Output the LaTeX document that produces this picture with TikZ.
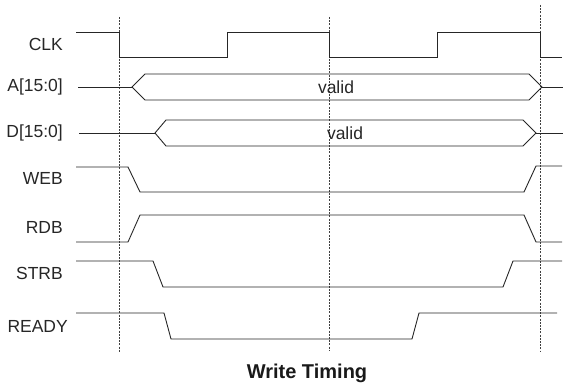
\documentclass[tikz,border=0pt]{standalone}
\usepackage{fontspec}
\setmainfont{Liberation Sans}
\begin{document}
\begin{tikzpicture}[x=1pt,y=-1pt,
        wave/.style={draw=black!85,line width=0.9pt,line join=miter},
        tick/.style={draw=black!75,line width=0.6pt,dash pattern=on 2pt off 1.2pt},
        sig/.style={anchor=east,inner sep=0pt,text=black!85,font=\fontsize{17.5}{20}\selectfont},
        val/.style={text=black!85,font=\fontsize{17.5}{20}\selectfont}]
        \useasboundingbox (0,0) rectangle (564,387);
        % clock edges
        \draw[tick] (119,17) -- (119,352);
        \draw[tick] (329,17) -- (329,350);
        \draw[tick] (540,5) -- (540,352);
        % signal names
        \node[sig] (clk)   at (63,44)  {CLK};
        \node[sig] (addr)  at (63,87)  {A[15:0]};
        \node[sig] (data)  at (63,133) {D[15:0]};
        \node[sig] (web)   at (63,178) {WEB};
        \node[sig] (rdb)   at (63,227) {RDB};
        \node[sig] (strb)  at (63,273) {STRB};
        \node[sig] (ready) at (68,326) {READY};
        % waveforms
        \draw[wave] (76,32) -- (119,32) -- (119,57) -- (227,57) -- (227,32) -- (329,32)
            -- (329,57) -- (437,57) -- (437,32) -- (540,32) -- (540,57) -- (562,57);
        \draw[wave] (78,87) -- (132,87) (542,87) -- (563,87);
        \draw[wave] (132,87) -- (145,74) -- (529,74) -- (542,87) -- (529,100) -- (145,100) -- cycle;
        \node[val] (vala) at (336,87) {valid};
        \draw[wave] (79,133) -- (155,133) (536,133) -- (563,133);
        \draw[wave] (155,133) -- (166,120) -- (523,120) -- (536,133) -- (523,146) -- (166,146) -- cycle;
        \node[val] (vald) at (345,133) {valid};
        \draw[wave] (76,167) -- (128,167) -- (140,192) -- (524,192) -- (536,166) -- (562,166);
        \draw[wave] (76,242) -- (128,242) -- (140,215) -- (524,215) -- (536,242) -- (562,242);
        \draw[wave] (76,261) -- (153,261) -- (163,287) -- (503,287) -- (513,261) -- (562,261);
        \draw[wave] (76,313) -- (164,313) -- (171,339) -- (412,339) -- (419,313) -- (557,313);
        \node[font=\bfseries\fontsize{20}{24}\selectfont,text=black!90] (title) at (307,373) {Write Timing};
\end{tikzpicture}
\end{document}
